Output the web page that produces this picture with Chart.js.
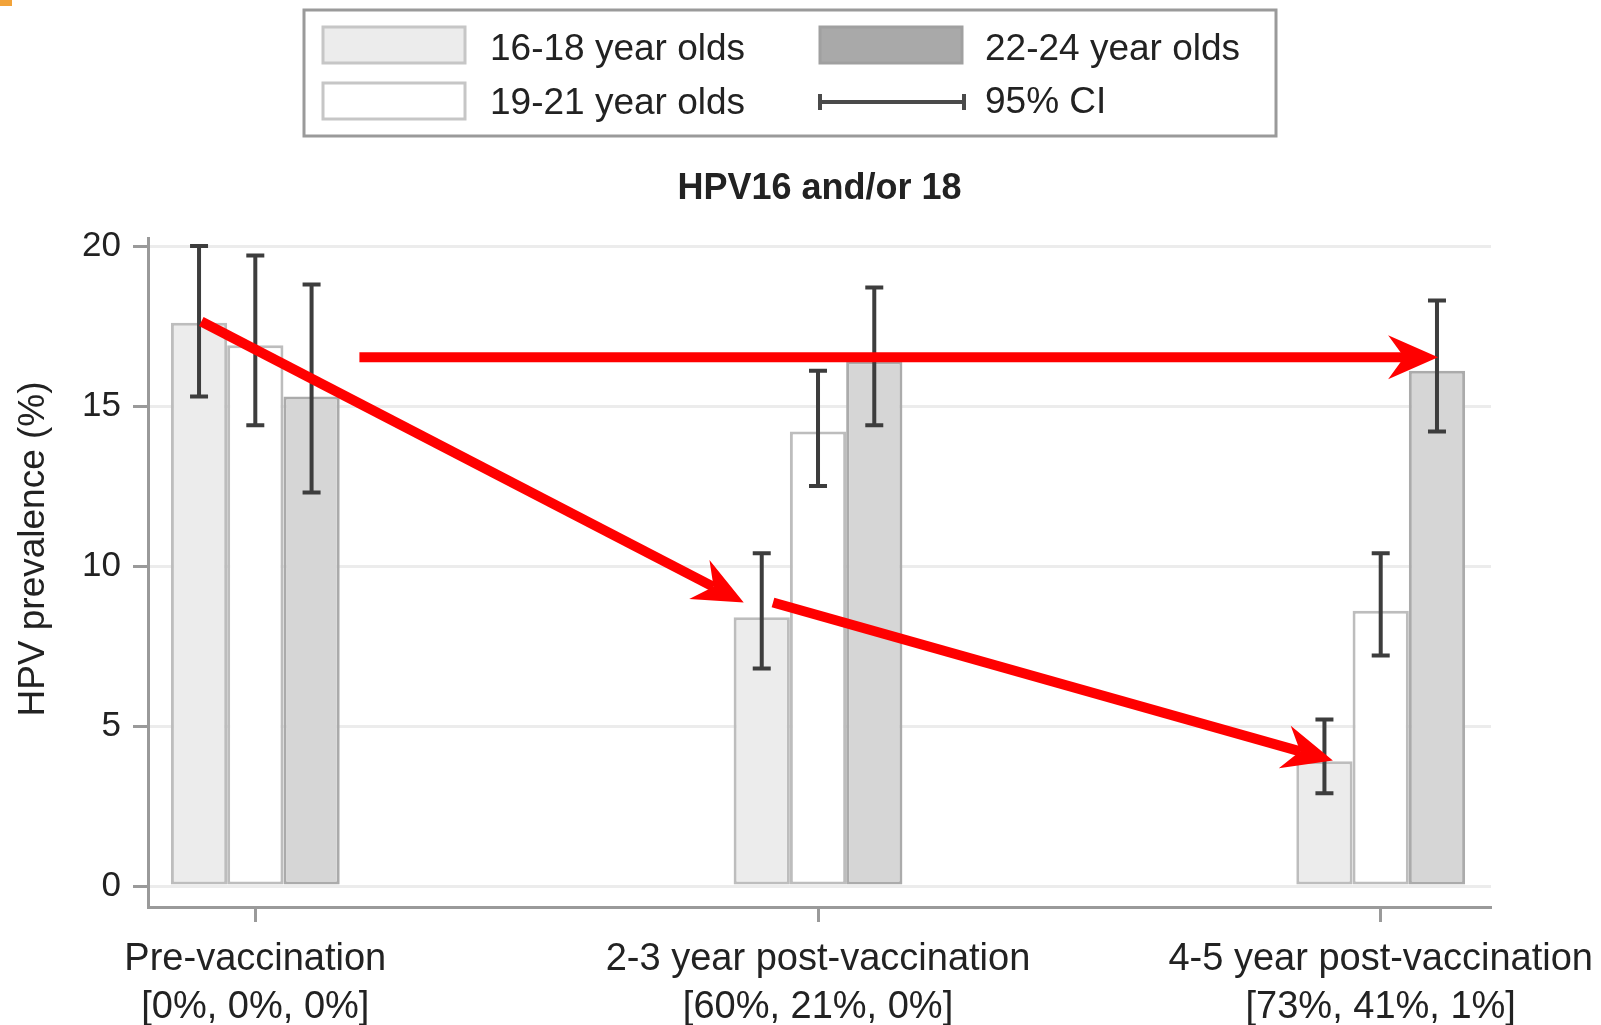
<!DOCTYPE html>
<html><head><meta charset="utf-8">
<script src="https://cdn.jsdelivr.net/npm/chart.js@4.4.1/dist/chart.umd.min.js"></script>
<style>
html,body{margin:0;padding:0;background:#fff;}
#wrap{position:relative;width:1601px;height:1025px;overflow:hidden;}
#corner{position:absolute;left:0;top:0;width:12px;height:6px;background:#f2a33a;}
</style>
</head><body>
<div id="wrap"><canvas id="c" width="1601" height="1025"></canvas><div id="corner"></div></div>
<script>
// ---------- data ----------
const categories = [
  ["Pre-vaccination", "[0%, 0%, 0%]"],
  ["2-3 year post-vaccination", "[60%, 21%, 0%]"],
  ["4-5 year post-vaccination", "[73%, 41%, 1%]"]
];
const seriesLabels = ["16-18 year olds", "19-21 year olds", "22-24 year olds"];
const prev1618 = [17.6, 8.4, 3.9];
const prev1921 = [16.9, 14.2, 8.6];
const prev2224 = [15.3, 16.4, 16.1];
const ciLow1618  = [15.3, 6.8, 2.9];
const ciHigh1618 = [20.0, 10.4, 5.2];
const ciLow1921  = [14.4, 12.5, 7.2];
const ciHigh1921 = [19.7, 16.1, 10.4];
const ciLow2224  = [12.3, 14.4, 14.2];
const ciHigh2224 = [18.8, 18.7, 18.3];
const yTicks = [0, 5, 10, 15, 20];
const chartTitle = "HPV16 and/or 18";
const yTitle = "HPV prevalence (%)";
const ciLabel = "95% CI";
// annotation arrows, in data units [categoryIndex, prevalence]
const arrowStart = [[-0.096, 17.64], [0.92, 8.86], [0.185, 16.52]];
const arrowEnd   = [[0.868, 8.86], [1.915, 3.92], [2.102, 16.52]];

// ---------- drawing ----------
const FONT = '"Liberation Sans", Arial, Helvetica, sans-serif';
const TXT = '#222';
const fills = ['#ececec', '#ffffff', '#d6d6d6'];
const borders = ['#bdbdbd', '#bdbdbd', '#ababab'];
const prevs = [prev1618, prev1921, prev2224];
const lows = [ciLow1618, ciLow1921, ciLow2224];
const highs = [ciHigh1618, ciHigh1921, ciHigh2224];

const datasets = prevs.map((arr, d) => ({
  label: seriesLabels[d],
  data: arr.map((v, i) => ({x: i, y: v})),
  backgroundColor: fills[d],
  borderColor: borders[d],
  borderWidth: 3,
  borderSkipped: false,
  categoryPercentage: 0.3,
  barPercentage: 1.0,
  ciLow: lows[d],
  ciHigh: highs[d]
}));

function drawArrow(ctx, x1, y1, x2, y2) {
  const ang = Math.atan2(y2 - y1, x2 - x1);
  const L = 50, W = 22, N = 34;
  const c = Math.cos(ang), s = Math.sin(ang);
  const bx = x2 - c * N, by = y2 - s * N;
  ctx.save();
  ctx.strokeStyle = '#ff0000';
  ctx.fillStyle = '#ff0000';
  ctx.lineWidth = 10;
  ctx.beginPath();
  ctx.moveTo(x1, y1);
  ctx.lineTo(bx, by);
  ctx.stroke();
  ctx.beginPath();
  ctx.moveTo(x2, y2);
  ctx.lineTo(x2 - c * L - s * W, y2 - s * L + c * W);
  ctx.lineTo(bx, by);
  ctx.lineTo(x2 - c * L + s * W, y2 - s * L - c * W);
  ctx.closePath();
  ctx.fill();
  ctx.restore();
}

const extras = {
  id: 'extras',
  afterDatasetsDraw(chart) {
    const ctx = chart.ctx;
    const xs = chart.scales.x, ys = chart.scales.y;
    // error bars
    chart.data.datasets.forEach((ds, d) => {
      const meta = chart.getDatasetMeta(d);
      meta.data.forEach((el, i) => {
        const x = el.x;
        const yl = ys.getPixelForValue(ds.ciLow[i]);
        const yh = ys.getPixelForValue(ds.ciHigh[i]);
        ctx.save();
        ctx.strokeStyle = '#3d3d3d';
        ctx.lineWidth = 4;
        ctx.beginPath();
        ctx.moveTo(x, yl); ctx.lineTo(x, yh);
        ctx.moveTo(x - 9, yl); ctx.lineTo(x + 9, yl);
        ctx.moveTo(x - 9, yh); ctx.lineTo(x + 9, yh);
        ctx.stroke();
        ctx.restore();
      });
    });
    // arrows
    arrowStart.forEach((s, k) => {
      const e = arrowEnd[k];
      drawArrow(ctx, xs.getPixelForValue(s[0]), ys.getPixelForValue(s[1]),
                xs.getPixelForValue(e[0]), ys.getPixelForValue(e[1]));
    });
  },
  afterDraw(chart) {
    const ctx = chart.ctx;
    const ca = chart.chartArea;
    const ds = chart.data.datasets;
    ctx.save();
    // legend box
    ctx.fillStyle = '#fff';
    ctx.fillRect(304, 10, 972, 126);
    ctx.strokeStyle = '#9a9a9a';
    ctx.lineWidth = 3;
    ctx.strokeRect(304, 10, 972, 126);
    ctx.font = '37px ' + FONT;
    ctx.textBaseline = 'middle';
    ctx.textAlign = 'left';
    const sw = (x, y, fill, stroke) => {
      ctx.fillStyle = fill; ctx.fillRect(x, y, 142, 36);
      ctx.strokeStyle = stroke; ctx.lineWidth = 3; ctx.strokeRect(x, y, 142, 36);
    };
    sw(323, 27, ds[0].backgroundColor, '#c6c6c6');
    sw(323, 83, ds[1].backgroundColor, '#c6c6c6');
    sw(820, 27, '#a9a9a9', '#a0a0a0');
    ctx.fillStyle = TXT;
    ctx.fillText(ds[0].label, 490, 50);
    ctx.fillText(ds[1].label, 490, 104);
    ctx.fillText(ds[2].label, 985, 50);
    ctx.fillText(ciLabel, 985, 103);
    // CI symbol
    ctx.strokeStyle = '#4a4a4a';
    ctx.lineWidth = 4;
    ctx.beginPath();
    ctx.moveTo(820, 102); ctx.lineTo(964, 102);
    ctx.moveTo(820, 94); ctx.lineTo(820, 110);
    ctx.moveTo(964, 94); ctx.lineTo(964, 110);
    ctx.stroke();
    // title
    ctx.font = 'bold 36px ' + FONT;
    ctx.textAlign = 'center';
    ctx.fillStyle = TXT;
    ctx.fillText(chartTitle, (ca.left + ca.right) / 2, 189);
    // y title
    ctx.translate(34, 549);
    ctx.rotate(-Math.PI / 2);
    ctx.font = '37px ' + FONT;
    ctx.fillText(yTitle, 0, 0);
    ctx.restore();
  }
};

new Chart(document.getElementById('c'), {
  type: 'bar',
  data: { datasets },
  options: {
    responsive: false,
    animation: false,
    devicePixelRatio: 1,
    layout: { padding: { top: 238, left: 0, right: 110, bottom: 0 } },
    plugins: { legend: { display: false }, title: { display: false }, tooltip: { enabled: false } },
    scales: {
      x: {
        type: 'linear', min: -0.1907, max: 2.196, offset: false,
        afterBuildTicks: s => { s.ticks = categories.map((c, i) => ({ value: i })); },
        afterFit: s => { s.height = 118; s.paddingLeft = 0; s.paddingRight = 0; },
        ticks: { callback: v => categories[v], font: { family: FONT, size: 38, lineHeight: 1.25 }, color: TXT,
                 padding: 14, maxRotation: 0, autoSkip: false },
        grid: { offset: false, drawOnChartArea: false, tickLength: 15, tickColor: '#9a9a9a', tickWidth: 3 },
        border: { color: '#9a9a9a', width: 3 }
      },
      y: {
        min: -0.656, max: 20.25,
        afterBuildTicks: s => { s.ticks = yTicks.map(v => ({ value: v })); },
        afterFit: s => { s.width = 148; },
        ticks: { font: { family: FONT, size: 35 }, color: TXT, padding: 12 },
        grid: { color: '#ececec', lineWidth: 3, tickLength: 15, tickColor: '#9a9a9a', tickWidth: 3 },
        border: { color: '#9a9a9a', width: 3 }
      }
    }
  },
  plugins: [extras]
});
</script>
</body></html>
